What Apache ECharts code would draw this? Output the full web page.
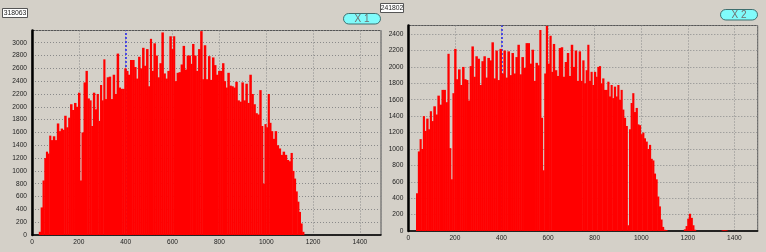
<!DOCTYPE html>
<html><head><meta charset="utf-8">
<script src="https://cdn.jsdelivr.net/npm/echarts@6/dist/echarts.min.js"></script>
<style>html,body{margin:0;padding:0;background:#d4d0c8;}#c{width:766px;height:252px;}</style>
</head><body><div id="c"></div>
<script>
// Panel 1 histogram (channel X 1): bin centres and counts
const bins1 = [
  34,42,50,57,64,71,78,85,95,102,
  112,119,128,135,142,152,159,168,176,185,
  193,202,209,216,226,233,242,250,257,265,
  273,281,288,295,302,309,316,324,333,341,
  350,358,367,375,383,391,399,407,415,424,
  433,441,450,458,467,475,484,492,501,508,
  515,524,532,541,549,558,566,575,583,592,
  600,607,614,623,631,640,648,657,666,674,
  681,688,697,706,714,724,731,738,748,757,
  765,774,782,791,800,808,817,824,831,839,
  848,856,865,873,882,891,899,908,916,925,
  933,942,950,959,967,976,983,990,997,1004,
  1011,1018,1025,1033,1041,1050,1058,1067,1075,1084,
  1093,1101,1109,1116,1123,1130,1137,1144,1151,1158
];
const counts1 = [
  50,430,850,1200,1300,1270,1550,1480,1540,1480,
  1740,1620,1660,1640,1860,1680,1830,2040,1950,2060,
  2000,2220,850,1600,2380,2560,2130,2100,1700,2220,
  1960,2200,1780,2340,2100,2740,2120,2460,2470,2120,
  2500,2200,2830,2300,2280,2280,2600,2560,2500,2730,
  2730,2620,2440,2780,2600,2920,2640,2900,2320,3060,
  2560,2990,2800,2460,2680,3160,2520,2440,2560,3100,
  2900,3100,2400,2530,2540,2660,2950,2580,2800,2800,
  2670,2980,2800,2560,2900,3180,2430,2960,2430,2790,
  2420,2770,2650,2500,2560,2560,2680,2400,2300,2530,
  2330,2320,2300,2390,2100,2080,2380,2100,2360,2060,
  2500,2200,2040,1900,1880,2260,1700,800,1730,1680,
  2200,1750,1620,1500,1620,1400,1350,1250,1300,1250,
  1170,1150,1280,1000,880,680,520,360,180,50
];
// Panel 2 histogram (channel X 2): bin centres and counts
const bins2 = [
  38,46,53,60,67,74,82,90,97,104,
  113,122,130,139,148,156,165,173,180,187,
  194,202,210,219,228,236,245,253,261,268,
  276,285,293,302,311,319,328,336,345,354,
  362,371,379,388,397,405,414,422,431,440,
  448,457,465,474,482,491,500,509,517,526,
  534,543,551,560,567,574,581,588,595,603,
  611,618,625,634,643,651,660,668,677,686,
  694,703,711,720,728,737,744,752,759,766,
  773,780,787,794,802,809,816,823,830,837,
  845,852,859,866,873,880,887,895,902,909,
  916,923,930,938,945,952,959,966,973,981,
  988,995,1002,1009,1016,1023,1031,1038,1045,1052,
  1059,1066,1073,1080,1087,1094,1101,1108,1188,1195,
  1202,1209,1217,1224,1231,1350,1358,1366
];
const counts2 = [
  460,970,1120,1000,1400,1220,1370,1240,1460,1340,
  1520,1420,1650,1540,1720,1720,1570,2160,1010,630,
  1680,2220,1850,1970,1780,2000,1850,1840,1590,2010,
  2250,1880,2130,2100,1780,2070,2130,1870,2110,2080,
  2300,1860,2200,1840,2220,1920,2200,1870,2190,1900,
  2170,1920,2120,2270,1910,2120,1990,2290,2290,2040,
  2210,1830,2050,2020,2450,1380,740,1920,2500,2040,
  2380,1940,2280,1960,1890,2230,2240,1880,2060,2170,
  1890,2270,2000,2200,1830,2190,1830,2080,1800,1960,
  2270,1830,1940,1780,1940,1880,2000,2010,1800,1860,
  1720,1720,1820,1640,1780,1620,1760,1640,1780,1600,
  1720,1480,1380,1280,70,1240,1560,1680,1450,1500,
  1300,1290,1180,1200,1130,1090,1000,1050,880,860,
  700,630,420,300,140,50,15,10,20,60,
  150,210,160,70,15,8,10,8
];
const totals = ['318063', '241802'];
const channelNames = ['X 1', 'X 2'];
const markerX = 400;
const xMax = [1490, 1500];
const yMax = [3190, 2505];
const HALF_BIN = 4;

const FONT = 'Liberation Sans, Arial, sans-serif';
const chart = echarts.init(document.getElementById('c'), null, {renderer: 'canvas'});
const plain = v => String(v);

// bin edges: halfway to neighbours (or half a bin when isolated)
function edges(bins, counts) {
  return bins.map((b, i) => {
    const prev = bins[i - 1], next = bins[i + 1];
    const lo = (prev !== undefined && b - prev <= 12) ? (b + prev) / 2 : b - HALF_BIN;
    const hi = (next !== undefined && next - b <= 12) ? (b + next) / 2 : b + HALF_BIN;
    return [lo, hi, counts[i]];
  });
}

function xAxis(gi) {
  return {
    type: 'value', gridIndex: gi, min: 0, max: xMax[gi], interval: 200,
    axisLine: {show: true, onZero: false, lineStyle: {color: '#000', width: 1.5}},
    axisTick: {show: false},
    axisLabel: {fontFamily: FONT, fontSize: 6.6, color: '#222', margin: 4, showMaxLabel: false, formatter: plain},
    splitLine: {show: true, lineStyle: {color: '#8a8a8a', type: [1, 2], width: 1}}
  };
}
function yAxis(gi) {
  return {
    type: 'value', gridIndex: gi, min: 0, max: yMax[gi], interval: 200,
    axisLine: {show: true, onZero: false, lineStyle: {color: '#000', width: 2.5}},
    axisTick: {show: false},
    axisLabel: {fontFamily: FONT, fontSize: 6.6, color: '#222', margin: 5, showMaxLabel: false, formatter: plain},
    splitLine: {show: true, lineStyle: {color: '#8a8a8a', type: [1, 2], width: 1}}
  };
}
function bars(gi, bins, counts) {
  return {
    type: 'custom', xAxisIndex: gi, yAxisIndex: gi, z: 3, silent: true,
    encode: {x: [0, 1], y: 2},
    data: edges(bins, counts),
    renderItem: function (params, api) {
      const p0 = api.coord([api.value(0), api.value(2)]);
      const p1 = api.coord([api.value(1), 0]);
      return {
        type: 'rect',
        shape: {x: p0[0] - 0.25, y: p0[1], width: p1[0] - p0[0] + 0.5, height: p1[1] - p0[1]},
        style: {fill: '#ff0000', stroke: null}
      };
    }
  };
}
function marker(gi) {
  return {
    type: 'line', xAxisIndex: gi, yAxisIndex: gi, z: 1, data: [], silent: true,
    markLine: {
      z: 1, silent: true, symbol: 'none', animation: false, label: {show: false},
      lineStyle: {color: '#2222ee', type: [2, 2], width: 1.5},
      data: [{xAxis: markerX}]
    }
  };
}
function box(x, y, w, h, text) {
  return [
    {type: 'rect', shape: {x: x, y: y, width: w, height: h}, style: {fill: '#ffffff', stroke: '#555', lineWidth: 1}, z: 10},
    {type: 'text', x: x + w / 2, y: y + h / 2 + 0.5, z: 11,
     style: {text: text, font: '6.8px ' + FONT, fill: '#222', align: 'center', verticalAlign: 'middle', textAlign: 'center', textVerticalAlign: 'middle'}}
  ];
}
function pill(x, y, w, h, text) {
  return [
    {type: 'rect', shape: {x: x, y: y, width: w, height: h, r: h / 2}, style: {fill: '#80fbfb', stroke: '#3f6f6f', lineWidth: 1}, z: 10},
    {type: 'text', x: x + w / 2, y: y + h / 2 + 0.5, z: 11,
     style: {text: text, font: '10px ' + FONT, fill: '#707070', align: 'center', verticalAlign: 'middle', textAlign: 'center', textVerticalAlign: 'middle'}}
  ];
}

chart.setOption({
  animation: false,
  backgroundColor: '#d4d0c8',
  grid: [
    {left: 32, top: 30.5, width: 349, height: 204.5, show: true, borderColor: '#555', borderWidth: 1, backgroundColor: 'transparent'},
    {left: 408.3, top: 25.5, width: 349.4, height: 205.5, show: true, borderColor: '#555', borderWidth: 1, backgroundColor: 'transparent'}
  ],
  xAxis: [xAxis(0), xAxis(1)],
  yAxis: [yAxis(0), yAxis(1)],
  series: [bars(0, bins1, counts1), bars(1, bins2, counts2), marker(0), marker(1)],
  graphic: [].concat(
    box(2.5, 8.5, 25, 9, totals[0]),
    box(380.5, 3.5, 23, 9, totals[1]),
    pill(343.5, 13.5, 37, 10.5, channelNames[0]),
    pill(720.5, 9.5, 37, 10.5, channelNames[1])
  )
});
</script></body></html>
